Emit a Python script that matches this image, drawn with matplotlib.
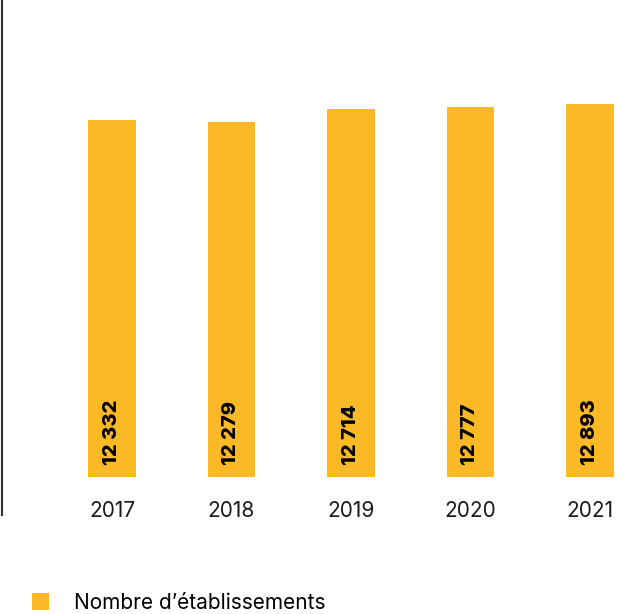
import matplotlib
matplotlib.use('Agg')
from matplotlib import pyplot as plt
from matplotlib.patches import Patch

plt.rcParams['font.family'] = ['Inter', 'DejaVu Sans']

years = ['2017', '2018', '2019', '2020', '2021']
etablissements = [12332, 12279, 12714, 12777, 12893]
value_labels = ['12 332', '12 279', '12 714', '12 777', '12 893']
legend_label = 'Nombre d\u2019établissements'

bar_color = '#FBB926'


def main():
    fig = plt.figure(figsize=(6.31, 6.14), dpi=100)
    ax = fig.add_axes([2 / 631, 99 / 614, 629 / 631, 515 / 614])

    x = list(range(len(years)))
    ax.bar(x, etablissements, width=0.4, color=bar_color, zorder=2)

    for xi, label in zip(x, value_labels):
        ax.text(xi, 420, label, rotation=90, ha='center', va='bottom',
                fontsize=14.5, fontweight='heavy', color='black', zorder=3)

    ax.set_xlim(-0.92, 4.343)
    ax.set_ylim(-1313, 16488)
    ax.set_xticks(x)
    ax.set_xticklabels(years, fontsize=15, color='#1a1a1a')
    ax.tick_params(axis='x', length=0, pad=-10)
    ax.set_yticks([])
    for side in ['top', 'right', 'bottom']:
        ax.spines[side].set_visible(False)
    ax.spines['left'].set_color('#333333')
    ax.spines['left'].set_linewidth(1.5)

    handle = Patch(facecolor=bar_color, edgecolor='none')
    fig.legend([handle], [legend_label], loc='center left',
               bbox_to_anchor=(13 / 631, 1 - 603 / 614), frameon=False,
               fontsize=15, handlelength=0.85, handleheight=0.85,
               handletextpad=1.2)

    fig.savefig('out.png', dpi=100)


if __name__ == '__main__':
    main()
